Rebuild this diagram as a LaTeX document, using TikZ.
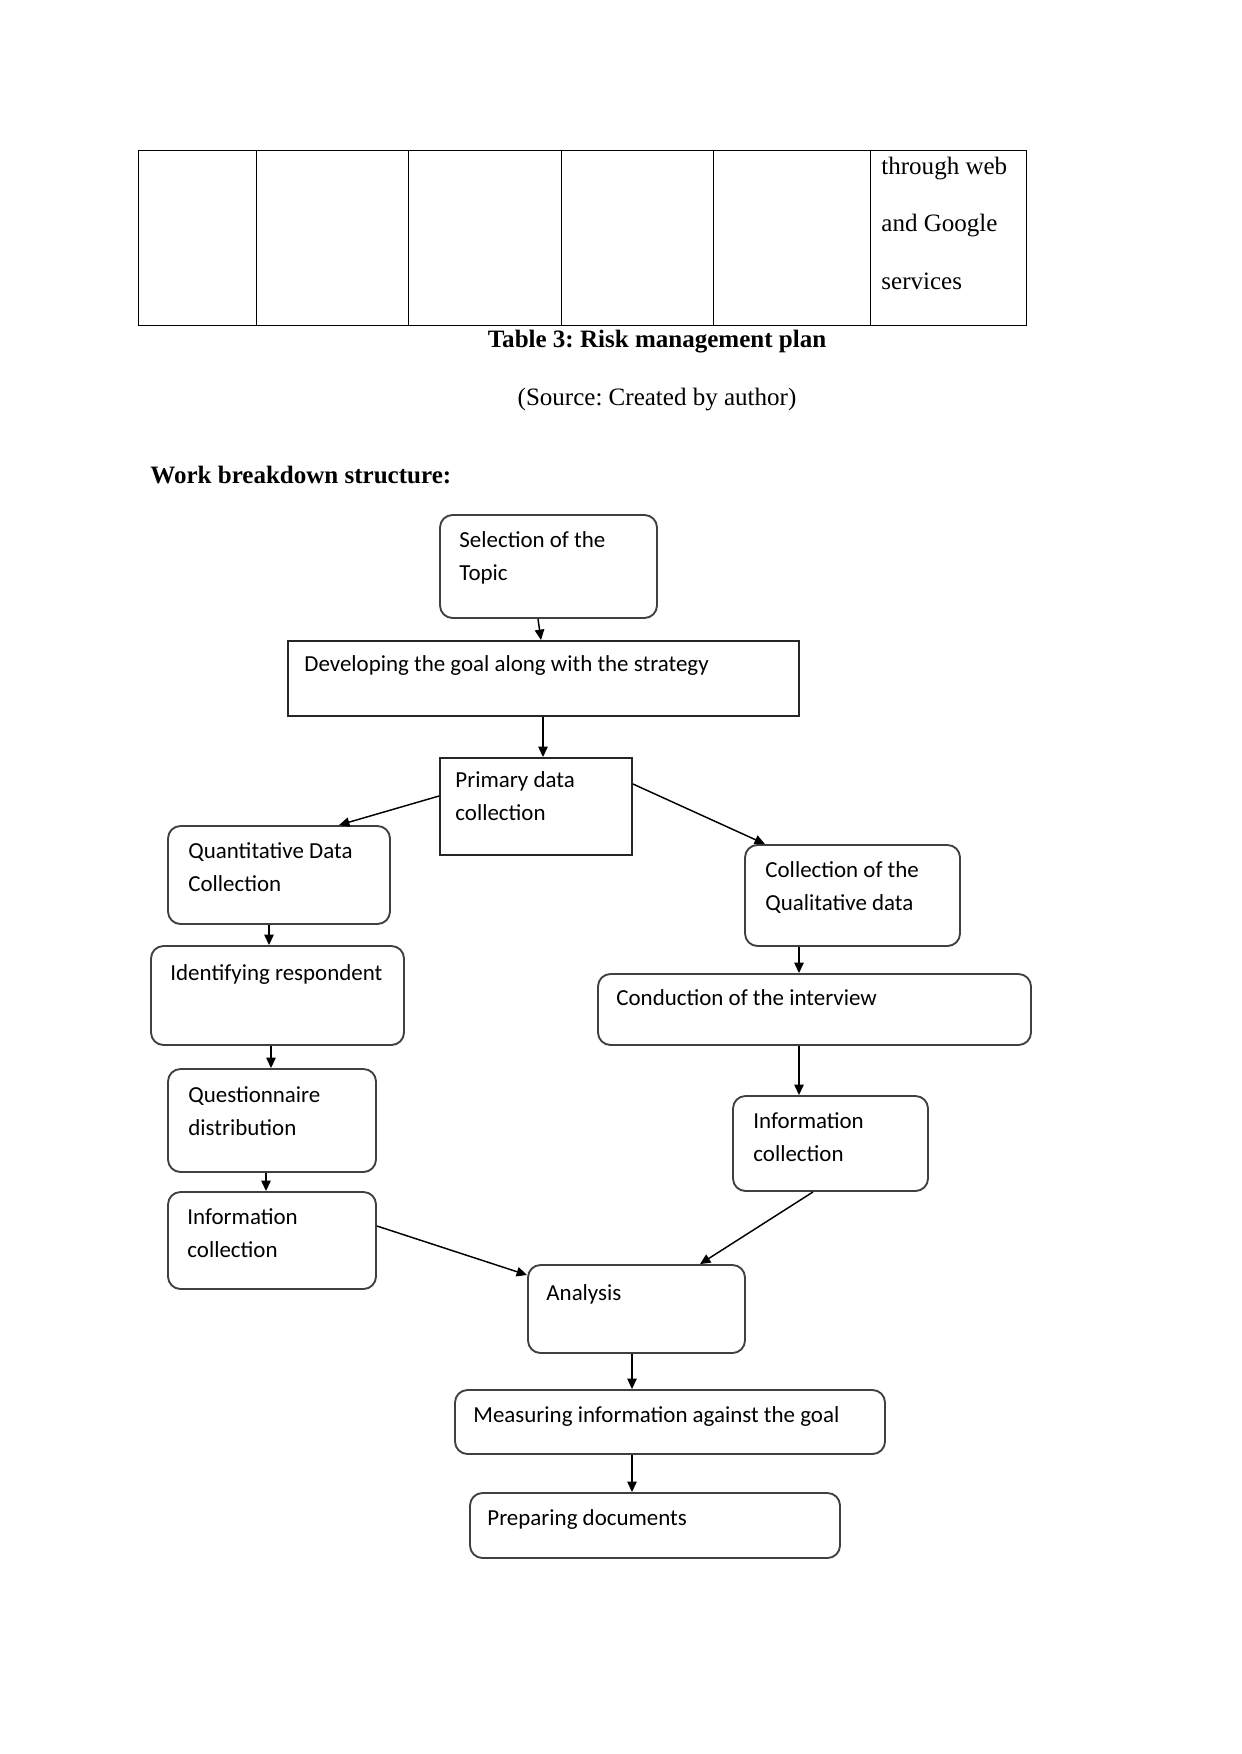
\documentclass[tikz,border=0pt]{standalone}
\usepackage{fontspec}
\setmainfont{Liberation Serif}
\newfontfamily\boxfont{Carlito}
\usetikzlibrary{arrows.meta,fit}
\frenchspacing
\begin{document}
\begin{tikzpicture}[x=0.4795pt,y=-0.4795pt,
 rbox/.style={draw=black!75, line width=0.9pt, rounded corners=6pt, inner sep=0pt},
 sbox/.style={draw=black!85, line width=0.9pt, inner sep=0pt},
 btxt/.style={font=\boxfont\fontsize{11}{15.8}\selectfont, anchor=base west, align=left, inner sep=0pt},
 arr/.style={-{Triangle[length=5pt,width=4.5pt]}, line width=0.7pt, black},
 ttxt/.style={font=\fontsize{12}{14}\selectfont, anchor=base west, inner sep=0pt},
 tline/.style={line width=0.4pt, black},
]
\useasboundingbox (0,0) rectangle (1241,1754);
\fill[white] (0,0) rectangle (1241,1754);

% table fragment
\draw[tline] (138,150) rectangle (1026,325);
\foreach \cx in {256,408,561,713,870} \draw[tline] (\cx,150) -- (\cx,325);
\node[ttxt] (t1) at (881,175) {through web};
\node[ttxt] (t2) at (881,232) {and Google};
\node[ttxt] (t3) at (881,290) {services};
\node[ttxt, anchor=base, font=\bfseries\fontsize{12}{14}\selectfont] (cap) at (657,348) {Table 3: Risk management plan};
\node[ttxt, anchor=base] (src) at (657,406) {(Source: Created by author)};
\node[ttxt, font=\bfseries\fontsize{12}{14}\selectfont] (wbs) at (150,483) {Work breakdown structure:};

% boxes
\node[rbox, fit={(440,515) (657,618)}] (sel) {};
\node[sbox, fit={(288,641) (799,716)}] (dev) {};
\node[sbox, fit={(440,758) (632,855)}] (pri) {};
\node[rbox, fit={(168,826) (390,924)}] (qua) {};
\node[rbox, fit={(745,845) (960,946)}] (qual) {};
\node[rbox, fit={(151,946) (404,1045)}] (ide) {};
\node[rbox, fit={(598,974) (1031,1045)}] (con) {};
\node[rbox, fit={(168,1069) (376,1172)}] (que) {};
\node[rbox, fit={(733,1096) (928,1191)}] (infr) {};
\node[rbox, fit={(168,1192) (376,1289)}] (infl) {};
\node[rbox, fit={(528,1265) (745,1353)}] (ana) {};
\node[rbox, fit={(455,1390) (885,1454)}] (mea) {};
\node[rbox, fit={(470,1493) (840,1558)}] (pre) {};

% box texts (base anchor of two-line nodes = second line)
\node[btxt] (selt) at (459,580) {Selection of the\\Topic};
\node[btxt] (devt) at (304,671) {Developing the goal along with the strategy};
\node[btxt] (prit) at (455,820) {Primary data\\collection};
\node[btxt] (quat) at (188,891) {Quantitative Data\\Collection};
\node[btxt] (qualt) at (765,910) {Collection of the\\Qualitative data};
\node[btxt] (idet) at (170,980) {Identifying respondent};
\node[btxt] (cont) at (616,1005) {Conduction of the interview};
\node[btxt] (quet) at (188,1135) {Questionnaire\\distribution};
\node[btxt] (infrt) at (753,1161) {Information\\collection};
\node[btxt] (inflt) at (187,1257) {Information\\collection};
\node[btxt] (anat) at (546,1300) {Analysis};
\node[btxt] (meat) at (473,1422) {Measuring information against the goal};
\node[btxt] (pret) at (487,1525) {Preparing documents};

% connectors
\draw[arr] (sel.south -| 538,0) -- (dev.north -| 541,0);
\draw[arr] (dev.south -| 543,0) -- (pri.north -| 543,0);
\draw[arr] (pri.west |- 0,796) -- (qua.north -| 339,0);
\draw[arr] (pri.east |- 0,784) -- (qual.north -| 765,0);
\draw[arr] (qua.south -| 269,0) -- (ide.north -| 269,0);
\draw[arr] (ide.south -| 271,0) -- (que.north -| 271,0);
\draw[arr] (que.south -| 266,0) -- (infl.north -| 266,0);
\draw[arr] (qual.south -| 799,0) -- (con.north -| 799,0);
\draw[arr] (con.south -| 799,0) -- (infr.north -| 799,0);
\draw[arr] (infl.east |- 0,1226) -- (ana.west |- 0,1275);
\draw[arr] (infr.south -| 813,0) -- (ana.north -| 700,0);
\draw[arr] (ana.south -| 632,0) -- (mea.north -| 632,0);
\draw[arr] (mea.south -| 632,0) -- (pre.north -| 632,0);
\end{tikzpicture}
\end{document}
